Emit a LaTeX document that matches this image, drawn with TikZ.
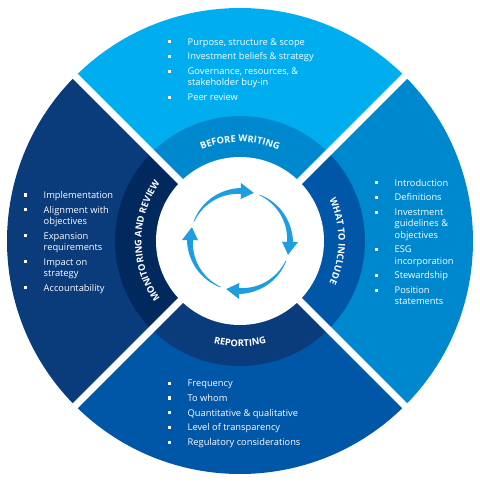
\documentclass[tikz,border=0pt]{standalone}
\usepackage{fontspec}
\setmainfont{Open Sans}
\usetikzlibrary{decorations.text}

\definecolor{cyanA}{HTML}{00AEEF}
\definecolor{blueB}{HTML}{0088CF}
\definecolor{blueC}{HTML}{0056A7}
\definecolor{navyD}{HTML}{0A3B7B}
\definecolor{navyE}{HTML}{01295E}
\definecolor{arrowblue}{HTML}{1E9EE0}

\newcommand{\sqb}{\makebox[20pt][l]{\raisebox{1.8pt}{\rule{3.2pt}{3.2pt}}}}
\newcommand{\hang}{\hspace*{20pt}}
\newcommand{\ringfont}{\bfseries\fontsize{9.3}{9.5}\selectfont}

\begin{document}
\begin{tikzpicture}[
  x=1pt, y=1pt,
  font=\fontsize{9.3}{11.2}\selectfont,
  list/.style={inner sep=0pt, text=white, anchor=base west},
  gap/.style={line width=7pt, draw=white},
  arrowfill/.style={fill=arrowblue}
]
\useasboundingbox (-240,-242) rectangle (240,241);

% ===================== RING: quadrants =====================
\foreach \a/\co/\cb in {90/cyanA/blueB, 0/blueB/blueC, 270/blueC/navyD, 180/navyD/navyE}{
  \fill[\co] (0,0) -- (\a-45:233) arc[start angle=\a-45, end angle=\a+45, radius=233] -- cycle;
  \fill[\cb] (0,0) -- (\a-45:125) arc[start angle=\a-45, end angle=\a+45, radius=125] -- cycle;
}
\fill[white] (0,0) circle[radius=84];

% white gaps
\foreach \a in {45,135,225,315}
  \draw[gap] (\a:80) -- (\a:240);

% ===================== RING LABELS =====================
\path[decorate, decoration={text along path, text align=center, text color=white,
  text={|\ringfont|BEFORE WRITING}}]
  (150:99) arc[start angle=150, end angle=30, radius=99];
\path[decorate, decoration={text along path, text align=center, text color=white,
  text={|\ringfont|WHAT TO INCLUDE}}]
  (60:98.5) arc[start angle=60, end angle=-60, radius=98.5];
\path[decorate, decoration={text along path, text align=center, text color=white,
  text={|\ringfont|REPORTING}}]
  (240:105.5) arc[start angle=240, end angle=300, radius=105.5];
\path[decorate, decoration={text along path, text align=center, text color=white,
  text={|\ringfont|MONITORING AND REVIEW}}]
  (240:98.5) arc[start angle=240, end angle=120, radius=98.5];

% ===================== CENTRE: cycle arrows =====================
\foreach \r in {0,90,180,270}
  \fill[arrowfill, rotate=-\r]
    plot[domain=157:89, samples=30] (\x:{50.3+2.7*(157-\x)/68})
    -- (89:58) -- (74:50) -- (89:42)
    -- plot[domain=89:157, samples=30] (\x:{49.7-2.7*(157-\x)/68})
    -- cycle;

% ===================== LISTS =====================
\node[list] (bwlist) at (-72.5,196) {%
  \begin{tabular}[t]{@{}l@{}}
  \sqb Purpose, structure \& scope\\[3.6pt]
  \sqb Investment beliefs \& strategy\\[3.6pt]
  \sqb Governance, resources, \&\\
  \hang stakeholder buy-in\\[3.6pt]
  \sqb Peer review
  \end{tabular}};

\node[list] (wilist) at (134.5,55) {%
  \begin{tabular}[t]{@{}l@{}}
  \sqb Introduction\\[3.6pt]
  \sqb Definitions\\[3.6pt]
  \sqb Investment\\
  \hang guidelines \&\\
  \hang objectives\\[3.6pt]
  \sqb ESG\\
  \hang incorporation\\[3.6pt]
  \sqb Stewardship\\[3.6pt]
  \sqb Position\\
  \hang statements
  \end{tabular}};

\node[list] (rplist) at (-72.5,-145.5) {%
  \begin{tabular}[t]{@{}l@{}}
  \sqb Frequency\\[3.6pt]
  \sqb To whom\\[3.6pt]
  \sqb Quantitative \& qualitative\\[3.6pt]
  \sqb Level of transparency\\[3.6pt]
  \sqb Regulatory considerations
  \end{tabular}};

\node[list] (mrlist) at (-216.5,42.7) {%
  \begin{tabular}[t]{@{}l@{}}
  \sqb Implementation\\[3.6pt]
  \sqb Alignment with\\
  \hang objectives\\[3.6pt]
  \sqb Expansion\\
  \hang requirements\\[3.6pt]
  \sqb Impact on\\
  \hang strategy\\[3.6pt]
  \sqb Accountability
  \end{tabular}};

\end{tikzpicture}
\end{document}
